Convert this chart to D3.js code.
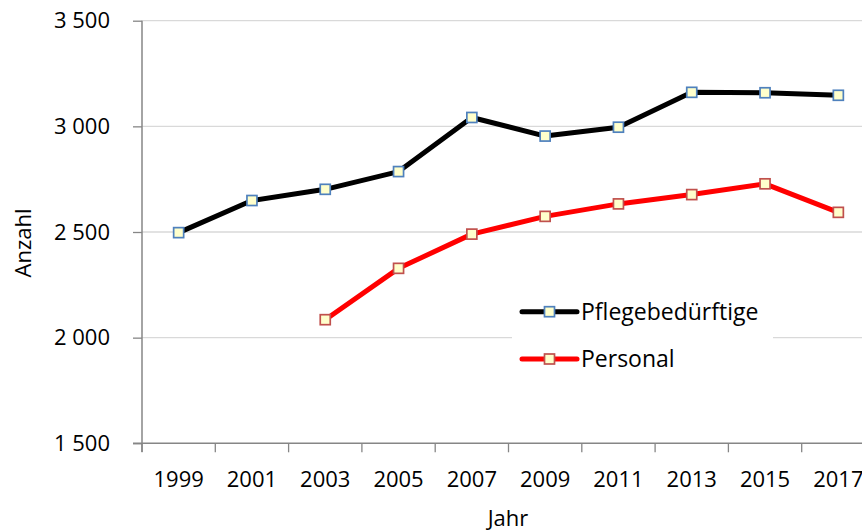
<!DOCTYPE html>
<html>
<head>
<meta charset="utf-8">
<script src="https://cdn.jsdelivr.net/npm/d3@7"></script>
<style>
  body { margin: 0; background: #fff; }
  svg { display: block; font-family: "Open Sans", "Noto Sans", sans-serif; }
</style>
</head>
<body>
<svg id="chart" width="862" height="531"></svg>
<script>
// Daten
var years = ["1999", "2001", "2003", "2005", "2007", "2009", "2011", "2013", "2015", "2017"];
var pflegebeduerftige = [2497, 2649, 2702, 2786, 3042, 2954, 2996, 3161, 3159, 3147];
var personal = [null, null, 2085, 2328, 2490, 2574, 2633, 2677, 2728, 2593];
var yTicks = [1500, 2000, 2500, 3000, 3500];

var svg = d3.select("#chart");

var x = d3.scaleBand().domain(years).range([142, 875]);
var y = d3.scaleLinear().domain([1500, 3500]).range([443.3, 20.7]);

var fmt = function(v) {
	return d3.format(",")(v).replace(",", " ");
};

// Gitterlinien
svg.append("g").selectAll("line")
	.data(yTicks.slice(1))
	.enter().append("line")
	.attr("x1", 142).attr("x2", 875)
	.attr("y1", function(d) { return y(d); })
	.attr("y2", function(d) { return y(d); })
	.attr("stroke", "#d9d9d9")
	.attr("stroke-width", 1.3);

// y-Achse
var yAxis = svg.append("g")
	.attr("transform", "translate(142,0)")
	.call(d3.axisLeft(y).tickValues(yTicks).tickFormat(fmt).tickSize(9).tickPadding(23));
yAxis.attr("font-family", null).attr("font-size", null);
yAxis.select(".domain").attr("stroke", "#868686").attr("stroke-width", 1.5)
	.attr("d", "M0,20.7V452");
yAxis.selectAll(".tick line").attr("stroke", "#868686").attr("stroke-width", 1.3);
yAxis.selectAll("text").attr("font-size", 22).attr("fill", "#000");

// x-Achse (Striche zwischen den Kategorien)
var xAxis = svg.append("g").attr("transform", "translate(0,443.3)");
xAxis.append("line").attr("x1", 133).attr("x2", 875)
	.attr("stroke", "#868686").attr("stroke-width", 1.5);
xAxis.selectAll(".xt")
	.data(years)
	.enter().append("line")
	.attr("class", "xt")
	.attr("x1", function(d) { return x(d); })
	.attr("x2", function(d) { return x(d); })
	.attr("y1", 0).attr("y2", 9)
	.attr("stroke", "#868686").attr("stroke-width", 1.3);
xAxis.selectAll("text")
	.data(years)
	.enter().append("text")
	.attr("x", function(d) { return x(d) + x.bandwidth() / 2; })
	.attr("y", 44)
	.attr("text-anchor", "middle")
	.attr("font-size", 22)
	.text(function(d) { return d; });

// Achsentitel
svg.append("text")
	.attr("x", 508).attr("y", 526)
	.attr("text-anchor", "middle")
	.attr("font-size", 22)
	.text("Jahr");
svg.append("text")
	.attr("transform", "translate(31,243) rotate(-90)")
	.attr("text-anchor", "middle")
	.attr("font-size", 22)
	.text("Anzahl");

var series = [
	{ name: "Pflegebedürftige", values: pflegebeduerftige, color: "#000000", mark: "#4f81bd" },
	{ name: "Personal", values: personal, color: "#ff0000", mark: "#c0504d" }
];

var line = d3.line()
	.defined(function(d) { return d != null; })
	.x(function(d, i) { return x(years[i]) + x.bandwidth() / 2; })
	.y(function(d) { return y(d); });

series.forEach(function(s) {
	svg.append("path")
		.datum(s.values)
		.attr("d", line)
		.attr("fill", "none")
		.attr("stroke", s.color)
		.attr("stroke-width", 5)
		.attr("stroke-linejoin", "round");
	svg.append("g").selectAll("rect")
		.data(s.values.map(function(v, i) { return { v: v, i: i }; }).filter(function(d) { return d.v != null; }))
		.enter().append("rect")
		.attr("x", function(d) { return x(years[d.i]) + x.bandwidth() / 2 - 5; })
		.attr("y", function(d) { return y(d.v) - 5; })
		.attr("width", 10).attr("height", 10)
		.attr("fill", "#ffffcc")
		.attr("stroke", s.mark)
		.attr("stroke-width", 1.7);
});

// Legende
var legend = svg.append("g");
legend.append("rect")
	.attr("x", 512).attr("y", 290).attr("width", 261).attr("height", 85)
	.attr("fill", "#fff");
series.forEach(function(s, i) {
	var ly = 311.7 + i * 47.3;
	legend.append("line")
		.attr("x1", 522).attr("x2", 577)
		.attr("y1", ly).attr("y2", ly)
		.attr("stroke", s.color).attr("stroke-width", 5)
		.attr("stroke-linecap", "round");
	legend.append("rect")
		.attr("x", 544.5).attr("y", ly - 5)
		.attr("width", 10).attr("height", 10)
		.attr("fill", "#ffffcc")
		.attr("stroke", s.mark).attr("stroke-width", 1.7);
	legend.append("text")
		.attr("x", 581).attr("y", ly)
		.attr("dy", "0.35em")
		.attr("font-size", 23)
		.text(s.name);
});
</script>
</body>
</html>
